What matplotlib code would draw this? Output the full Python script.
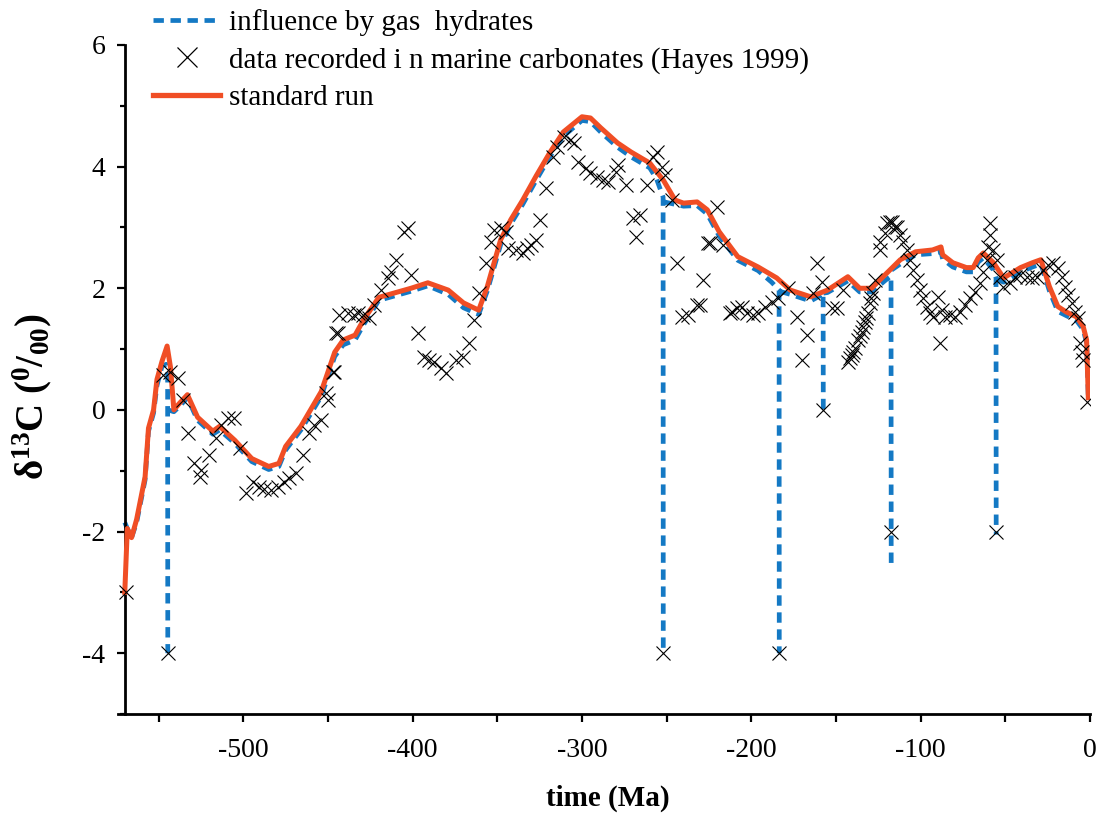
import matplotlib
matplotlib.use("Agg")
import matplotlib.pyplot as plt
from matplotlib.ticker import MultipleLocator
from matplotlib.lines import Line2D

plt.rcParams["font.family"] = ["Liberation Serif", "DejaVu Serif"]
plt.rcParams["mathtext.fontset"] = "custom"
plt.rcParams["mathtext.rm"] = "Liberation Serif"
plt.rcParams["mathtext.bf"] = "Liberation Serif:bold"
plt.rcParams["mathtext.it"] = "Liberation Serif:italic"
plt.rcParams["axes.unicode_minus"] = False

NAN = float("nan")

# Standard model run (time in Ma, delta13C in permil)
std_time = [-570, -568.5, -566, -563, -558, -556, -553, -551, -548, -545, -543, -541,
            -538, -533, -527, -518, -514, -505, -495, -485, -479, -475, -466, -454,
            -446, -441, -434, -429, -420, -415, -401, -391, -379, -370, -361, -356,
            -348, -342, -335, -327, -319, -311, -300, -295, -289, -279, -271, -260,
            -252, -245, -240, -232, -226, -219, -208, -196, -185, -177, -165, -155,
            -143, -136, -129, -120, -112, -103, -93, -88, -87, -81, -73, -69, -66,
            -63, -57, -51, -41, -34, -29, -24, -19, -14, -8, -4, -2, -1]
std_d13c = [-3.0, -1.95, -2.1, -1.8, -1.1, -0.3, 0.0, 0.5, 0.8, 1.05, 0.7, 0.0,
            0.1, 0.25, -0.12, -0.35, -0.27, -0.5, -0.8, -0.93, -0.88, -0.6, -0.27, 0.3,
            0.95, 1.15, 1.23, 1.48, 1.85, 1.89, 2.0, 2.09, 1.97, 1.76, 1.64, 2.02,
            2.8, 3.13, 3.45, 3.85, 4.23, 4.57, 4.82, 4.8, 4.64, 4.39, 4.24, 4.06,
            3.78, 3.45, 3.4, 3.42, 3.29, 2.93, 2.52, 2.35, 2.17, 1.97, 1.86, 1.97,
            2.19, 2.0, 2.0, 2.25, 2.47, 2.6, 2.63, 2.68, 2.55, 2.42, 2.34, 2.34, 2.5,
            2.58, 2.42, 2.17, 2.34, 2.42, 2.47, 2.03, 1.7, 1.61, 1.53, 1.37, 1.15, 0.2]

# Run including gas hydrate release events (NaN breaks the line after each drop)
gh_time = [-570, -568.5, -566, -563, -558, -556, -553, -551, -548, -545.5, -544.7,
           -544.6, NAN, -544.4, -541, -538, -533, -527, -518, -514, -505, -495, -485,
           -479, -475, -466, -454, -446, -441, -434, -429, -420, -415, -401, -391,
           -379, -370, -361, -356, -348, -342, -335, -327, -319, -311, -300, -295,
           -289, -279, -271, -260, -256, -252.1, -252, NAN, -251.5, -245, -240, -232,
           -226, -219, -208, -196, -188, -183.6, -183.5, NAN, -183.2, -177, -165, -158,
           -157.6, -157.5, NAN, -157.4, -155, -143, -136, -129, -120, -117.5, -117.4,
           NAN, -117.2, -112, -103, -93, -88, -87, -81, -73, -69, -66, -63, -57,
           -55.5, -55.4, NAN, -55.2, -51, -41, -34, -29, -24, -19, -14, -8, -4, -2, -1]
gh_d13c = [-1.85, -1.95, -2.1, -1.85, -1.15, -0.35, -0.05, 0.4, 0.72, 0.75, 0.6,
           -4.0, NAN, 0.0, -0.03, 0.05, 0.2, -0.17, -0.4, -0.33, -0.55, -0.85, -0.98,
           -0.93, -0.66, -0.33, 0.22, 0.88, 1.07, 1.15, 1.4, 1.8, 1.84, 1.95, 2.04,
           1.9, 1.68, 1.57, 1.95, 2.72, 3.06, 3.38, 3.78, 4.16, 4.5, 4.76, 4.74,
           4.57, 4.32, 4.16, 3.98, 3.8, 3.5, -4.0, NAN, 3.42, 3.38, 3.35, 3.36,
           3.22, 2.86, 2.46, 2.29, 2.1, 1.97, -4.0, NAN, 1.95, 1.9, 1.79, 1.9,
           1.92, 0.0, NAN, 1.92, 1.93, 2.12, 1.94, 1.94, 2.15, 2.2, -2.55,
           NAN, 2.3, 2.4, 2.55, 2.57, 2.6, 2.48, 2.35, 2.27, 2.27, 2.43, 2.5, 2.3,
           2.17, -2.05, NAN, 2.15, 2.1, 2.27, 2.35, 2.4, 1.96, 1.62, 1.55, 1.47, 1.32, 1.1, 0.2]

# Marine carbonate record (Hayes 1999)
obs_time = [-569.3, -547.7, -543.4, -538.7, -535.7, -532.8, -529.2, -525.1, -525.7,
            -520.4, -516.2, -513.3, -509.2, -505.6, -502.1, -498.5, -494.4, -490.9,
            -487.9, -483.8, -479.7, -476.1, -473.2, -469.1, -464.9, -461.4, -458.4,
            -454.3, -451.3, -450.2, -447.2, -446.6, -445.4, -444.3, -443.7, -438.4,
            -434.8, -432.0, -429.5, -426.0, -423.0, -418.9, -414.8, -413.0, -410.0,
            -405.3, -403.0, -401.2, -397.1, -393.5, -390.6, -387.6, -383.5, -380.5,
            -374.6, -370.5, -367.0, -364.0, -361.1, -356.9, -354.0, -352.2, -348.1,
            -345.1, -343.4, -339.2, -335.1, -332.2, -330.4, -327.4, -324.5, -321.5,
            -317.4, -314.5, -310.9, -306.8, -305.0, -302.1, -297.9, -295.0, -290.9,
            -287.3, -284.4, -280.2, -278.5, -274.3, -269.6, -267.9, -265.5, -261.4,
            -257.8, -255.5, -252.5, -250.7, -246.6, -243.7, -240.7, -237.2, -231.9,
            -230.1, -228.3, -225.4, -224.2, -220.1, -216.5, -212.4, -211.2, -208.3,
            -205.3, -202.4, -198.8, -195.9, -191.7, -187.6, -184.1, -178.2, -172.9,
            -169.9, -167.0, -163.4, -161.1, -158.1, -152.2, -149.3, -145.7, -142.8,
            -141.6, -140.4, -139.8, -138.6, -136.9, -135.7, -134.5, -133.9, -132.7,
            -132.1, -131.0, -129.8, -129.2, -128.0, -126.9, -123.9, -123.9, -120.9,
            -119.8, -118.0, -116.8, -115.0, -113.9, -112.1, -110.3, -108.0, -106.2,
            -104.4, -102.1, -100.3, -98.5, -96.2, -94.4, -92.6, -89.7, -88.5, -87.3,
            -85.5, -82.6, -79.6, -76.7, -73.7, -70.8, -67.8, -64.9, -63.1, -60.8,
            -60.2, -59.0, -59.0, -57.2, -54.9, -53.1, -51.3, -47.2, -44.2, -41.3,
            -37.2, -34.2, -31.3, -27.7, -24.8, -21.8, -18.9, -16.5, -14.7, -13.0,
            -10.6, -8.8, -7.1, -5.9, -4.7, -4.1, -1.8,
            -544.6, -251.9, -183.5, -157.5, -117.4, -55.5]
obs_d13c = [-3.0, 0.58, 0.63, 0.53, 0.16, -0.38, -0.87, -0.99, -1.10,
            -0.74, -0.46, -0.25, -0.13, -0.13, -0.63, -1.37, -1.18, -1.27,
            -1.30, -1.32, -1.27, -1.18, -1.12, -1.04, -0.74, -0.38, -0.25,
            -0.16, 0.28, 0.16, 0.63, 0.63, 1.27, 1.27, 1.56, 1.60,
            1.56, 1.60, 1.56, 1.51, 1.73, 1.97, 2.17, 2.27, 2.47,
            2.93, 2.99, 2.22, 1.27, 0.87, 0.82, 0.79, 0.69, 0.61,
            0.82, 0.87, 1.10, 1.48, 1.92, 2.42, 2.76, 2.96, 2.99,
            2.93, 2.66, 2.63, 2.58, 2.66, 2.71, 2.80, 3.13, 3.65,
            4.16, 4.33, 4.49, 4.44, 4.39, 4.08, 3.98, 3.90, 3.83,
            3.78, 3.75, 3.91, 4.03, 3.70, 3.16, 2.85, 3.21, 3.70,
            4.16, 4.24, 4.00, 3.87, 3.45, 2.42, 1.53, 1.56, 1.73,
            1.73, 2.14, 2.75, 2.75, 3.34, 2.71, 1.60, 1.61, 1.68,
            1.69, 1.60, 1.56, 1.60, 1.69, 1.78, 1.84, 2.01, 1.53,
            0.82, 1.23, 1.92, 2.42, 2.11, 1.68, 1.68, 1.97, 0.79,
            0.86, 0.90, 0.95, 1.02, 1.15, 1.22, 1.28, 1.37, 1.45,
            1.51, 1.60, 1.76, 1.84, 1.92, 2.14, 2.63, 2.76, 2.91,
            3.08, 3.09, 3.09, 3.01, 3.01, 2.88, 2.76, 2.63, 2.47,
            2.30, 2.14, 1.97, 1.84, 1.69, 1.60, 1.53, 1.86, 1.10, 1.64,
            1.53, 1.56, 1.53, 1.61, 1.73, 1.84, 1.94, 2.09, 2.27, 2.47,
            2.68, 2.88, 3.08, 2.63, 2.47, 2.19, 2.02, 2.09, 2.19, 2.22,
            2.19, 2.17, 2.19, 2.30, 2.38, 2.42, 2.34, 2.19, 2.02, 1.89,
            1.76, 1.61, 1.51, 1.10, 0.95, 0.82, 0.13,
            -4.0, -4.0, -4.0, 0.0, -2.0, -2.0]

RED = "#f04e25"
BLUE = "#1479c4"
BLUE_DASH = (2.2, 1.4)

fig = plt.figure(figsize=(11, 8.18), dpi=100)
ax = fig.add_axes([118 / 1100, 1 - 714 / 818, 972 / 1100, 669 / 818])

ax.plot(gh_time, gh_d13c, color=BLUE, lw=3.4, dashes=BLUE_DASH, zorder=2)
ax.plot(std_time, std_d13c, color=RED, lw=3.6, solid_joinstyle="round", zorder=3)
ax.plot(obs_time, obs_d13c, ls="none", marker="x", ms=10.5, mew=0.8, color="black", zorder=4)

ax.set_xlim(-574, 0)
ax.set_ylim(-5, 6)
ax.spines["left"].set_position(("data", -570))
ax.spines["top"].set_visible(False)
ax.spines["right"].set_visible(False)
for s in ("left", "bottom"):
    ax.spines[s].set_linewidth(2.0)

ax.xaxis.set_major_locator(MultipleLocator(100))
ax.xaxis.set_minor_locator(MultipleLocator(50))
ax.yaxis.set_major_locator(MultipleLocator(2))
ax.yaxis.set_minor_locator(MultipleLocator(1))
ax.tick_params(which="major", direction="out", length=6, width=1.6, labelsize=20)
ax.tick_params(axis="x", which="major", pad=11)
ax.tick_params(axis="y", which="major", pad=8)
ax.tick_params(axis="x", which="minor", direction="out", length=6, width=1.6)
ax.tick_params(axis="y", which="minor", direction="out", length=3.5, width=1.6)

ax.set_xlabel("time (Ma)", fontsize=21, fontweight="bold")
ax.xaxis.set_label_coords(0.504, -0.105)
ax.set_ylabel(r"$\mathbf{δ^{13}C\ (^{0}/_{00})}$", fontsize=28)
ax.yaxis.set_label_coords(-0.066, 0.474)

handles = [
    Line2D([], [], color=BLUE, lw=3.4, dashes=BLUE_DASH),
    Line2D([], [], ls="none", marker="x", ms=14, mew=0.9, color="black"),
    Line2D([], [], color=RED, lw=3.8),
]
labels = ["influence by gas  hydrates",
          "data recorded i n marine carbonates (Hayes 1999)",
          "standard run"]
fig.legend(handles, labels, loc="upper left", bbox_to_anchor=(153 / 1100, 1 - 9 / 818),
           frameon=False, fontsize=21, handlelength=2.3, handletextpad=0.3,
           labelspacing=0.38, borderpad=0, borderaxespad=0)

fig.savefig("out.png", dpi=100)
